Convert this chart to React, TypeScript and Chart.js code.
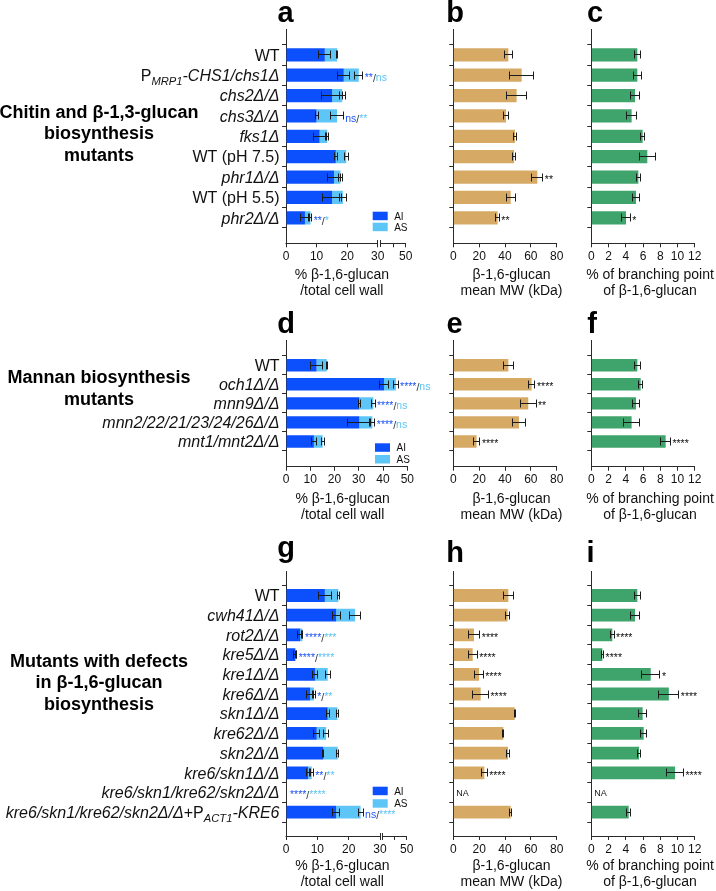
import React, { useEffect, useRef } from 'react';
import { Chart, registerables, LinearScale } from 'chart.js';

Chart.register(...registerables);

class BrokenLinearScale extends (LinearScale as any) {
  static id = 'brokenLinear';
  static defaults = (LinearScale as any).defaults;
  getPixelForValue(value: any) {
    if (value === null || value === undefined || isNaN(value)) return NaN;
    const o: any = (this as any).options;
    const self: any = this;
    const at = o.breakAt, frac = o.breakFrac, gap = o.breakGap;
    const lw = self.width * frac;
    if (value <= at) return self.left + ((value - self.min) / (at - self.min)) * lw;
    return self.left + lw + gap + ((value - at) / (self.max - at)) * (self.width - lw - gap);
  }
  getValueForPixel(pixel: number) {
    const o: any = (this as any).options;
    const self: any = this;
    const lw = self.width * o.breakFrac;
    const d = pixel - self.left;
    if (d <= lw) return self.min + (d / lw) * (o.breakAt - self.min);
    return o.breakAt + ((d - lw - o.breakGap) / (self.width - lw - o.breakGap)) * (self.max - o.breakAt);
  }
}
Chart.register(BrokenLinearScale as any);

const FONT = '"Liberation Sans", Arial, Helvetica, sans-serif';
const AXIS = '#2a2a2a';
const TXT = '#111111';
const C_AI = '#0b50fc';
const C_AS = '#5ec6f7';
const C_MW = '#d6a965';
const C_BR = '#3fa46b';

// ---------- Panel a/b/c : chitin & beta-1,3-glucan mutants ----------
const catsA = ['WT', 'P_{*MRP1*}*-CHS1/chs1Δ*', '*chs2Δ/Δ*', '*chs3Δ/Δ*', '*fks1Δ*', 'WT (pH 7.5)', '*phr1Δ/Δ*', 'WT (pH 5.5)', '*phr2Δ/Δ*'];
const aiA = [12.7, 18.9, 15.1, 10.0, 11.0, 16.3, 15.7, 15.1, 6.2];
const aiErrA = [2.0, 1.9, 3.5, 0.5, 1.9, 0.4, 2.0, 3.0, 1.3];
const asA = [4.0, 4.9, 3.3, 6.7, 2.5, 3.4, 2.1, 3.5, 1.8];
const asErrA = [0.3, 1.3, 1.0, 2.0, 0.4, 0.7, 0.7, 1.1, 0.4];
const sigAiA = ['', '**', '', 'ns', '', '', '', '', '**'];
const sigAsA = ['', 'ns', '', '**', '', '', '', '', '*'];
const mwA = [42.6, 52.9, 49.0, 40.8, 47.7, 47.0, 65.0, 44.4, 34.3];
const mwErrA = [3.2, 9.4, 8.0, 2.0, 1.0, 1.0, 4.3, 3.5, 1.3];
const mwSigA = ['', '', '', '', '', '', '**', '', '**'];
const brA = [5.34, 5.34, 5.07, 4.68, 5.96, 6.5, 5.46, 5.19, 4.03];
const brErrA = [0.35, 0.45, 0.55, 0.55, 0.25, 0.95, 0.25, 0.45, 0.5];
const brSigA = ['', '', '', '', '', '', '', '', '*'];

// ---------- Panel d/e/f : mannan mutants ----------
const catsD = ['WT', '*och1Δ/Δ*', '*mnn9Δ/Δ*', '*mnn2/22/21/23/24/26Δ/Δ*', '*mnt1/mnt2Δ/Δ*'];
const aiD = [12.6, 40.4, 30.2, 30.2, 11.5];
const aiErrD = [2.5, 1.7, 0.4, 4.8, 1.0];
const asD = [4.2, 4.9, 5.8, 5.4, 3.6];
const asErrD = [0.3, 0.9, 0.7, 1.0, 0.6];
const sigAiD = ['', '****', '****', '****', ''];
const sigAsD = ['', 'ns', 'ns', 'ns', ''];
const mwD = [42.6, 60.6, 58.0, 50.8, 18.0];
const mwErrD = [3.9, 2.6, 6.0, 4.9, 2.6];
const mwSigD = ['', '****', '**', '', '****'];
const brD = [5.34, 5.73, 5.19, 4.68, 8.63];
const brErrD = [0.35, 0.25, 0.45, 0.9, 0.55];
const brSigD = ['', '', '', '', '****'];

// ---------- Panel g/h/i : beta-1,6-glucan biosynthesis mutants ----------
const catsG = ['WT', '*cwh41Δ/Δ*', '*rot2Δ/Δ*', '*kre5Δ/Δ*', '*kre1Δ/Δ*', '*kre6Δ/Δ*', '*skn1Δ/Δ*', '*kre62Δ/Δ*', '*skn2Δ/Δ*', '*kre6/skn1Δ/Δ*', '*kre6/skn1/kre62/skn2Δ/Δ*', '*kre6/skn1/kre62/skn2Δ/Δ*+P_{*ACT1*}*-KRE6*'];
const aiG = [12.4, 16.0, 4.5, 2.9, 9.3, 7.7, 13.3, 9.8, 11.9, 7.1, null, 16.0];
const aiErrG = [2.1, 1.3, 0.8, 0.5, 0.9, 1.2, 0.5, 0.9, 0.2, 0.5, null, 1.1];
const asG = [4.3, 6.0, 0.7, 0.2, 4.0, 1.2, 3.1, 3.0, 4.6, 1.1, null, 7.8];
const asErrG = [0.3, 1.8, 0.2, 0.2, 0.8, 0.4, 0.4, 0.7, 0.4, 0.5, null, 0.8];
const sigAiG = ['', '', '****', '****', '', '*', '', '', '', '**', '****', 'ns'];
const sigAsG = ['', '', '***', '****', '', '**', '', '', '', '**', '****', '****'];
const mwG = [42.6, 42.0, 16.0, 15.0, 19.9, 21.2, 47.5, 38.7, 42.3, 24.0, null, 44.4];
const mwErrG = [3.9, 1.5, 4.5, 3.5, 3.2, 6.0, 0.3, 0.3, 1.5, 2.2, null, 0.9];
const mwSigG = ['', '', '****', '****', '****', '****', '', '', '', '****', '', ''];
const brG = [5.34, 5.07, 2.44, 1.28, 6.9, 9.0, 5.96, 6.08, 5.54, 9.72, null, 4.34];
const brErrG = [0.35, 0.5, 0.2, 0.15, 1.07, 1.16, 0.45, 0.35, 0.2, 0.97, null, 0.25];
const brSigG = ['', '', '****', '****', '*', '****', '', '', '', '****', '', ''];

// ---------- axes ----------
const pctTicks = [0, 10, 20, 30, 40, 50];
const pctBrokenLabels = ['0', '10', '20', '30', '', '50'];
const pctLabels = ['0', '10', '20', '30', '40', '50'];
const mwTicks = [0, 20, 40, 60, 80];
const mwLabels = ['0', '20', '40', '60', '80'];
const brTicks = [0, 2, 4, 6, 8, 10, 12];
const brLabels = ['0', '2', '4', '6', '8', '10', '12'];
const pctTitle = ['% β-1,6-glucan', '/total cell wall'];
const mwTitle = ['β-1,6-glucan', 'mean MW (kDa)'];
const brTitle = ['% of branching point', 'of β-1,6-glucan'];
const seriesLabels = ['AI', 'AS'];

const groupTitles = [
  ['Chitin and β-1,3-glucan', 'biosynthesis', 'mutants'],
  ['Mannan biosynthesis', 'mutants'],
  ['Mutants with defects', 'in β-1,6-glucan', 'biosynthesis'],
];
const groupBaselines = [[117.5, 139.2, 160.8], [383, 405], [666.7, 688.3, 710]];
const panelLetters = [
  { t: 'a', x: 285.5, y: 21.7 }, { t: 'b', x: 455, y: 21.7 }, { t: 'c', x: 595, y: 21.7 },
  { t: 'd', x: 286, y: 333.3 }, { t: 'e', x: 454.5, y: 333.3 }, { t: 'f', x: 592, y: 333.3 },
  { t: 'g', x: 286, y: 557 }, { t: 'h', x: 455, y: 561.7 }, { t: 'i', x: 590.5, y: 561.7 },
];

type Series = { label: string; values: (number | null)[]; errs: (number | null)[]; color: string; sigColor: string; sigs: string[] };
type Panel = {
  key: string;
  box: { left: number; top: number; width: number; height: number };
  area: { L: number; R: number; T: number; B: number };
  cats?: string[];
  rows: number;
  pad: number;
  stacked: boolean;
  series: Series[];
  xMax: number;
  xTicks: number[];
  xLabels: string[];
  broken?: { at: number; frac: number; gap: number };
  title: string[];
  titleDx: number;
  titleDy: number;
  legend?: { dx: number; dy: number; gap: number };
  na?: boolean;
};

const COL1 = { left: 0, width: 445 };
const COL2 = { left: 445, width: 135 };
const COL3 = { left: 580, width: 136 };
const ROW1 = { top: 0, height: 298, T: 29.3, B: 243.3 };
const ROW2 = { top: 300, height: 225, T: 340, B: 466.7 };
const ROW3 = { top: 530, height: 361, T: 571.7, B: 836 };

function stackedSeries(ai: any[], aiE: any[], as_: any[], asE: any[], sAi: string[], sAs: string[]): Series[] {
  return [
    { label: seriesLabels[0], values: ai, errs: aiE, color: C_AI, sigColor: '#1f55f5', sigs: sAi },
    { label: seriesLabels[1], values: as_, errs: asE, color: C_AS, sigColor: '#5cc4f5', sigs: sAs },
  ];
}
function single(v: any[], e: any[], s: string[], color: string): Series[] {
  return [{ label: '', values: v, errs: e, color, sigColor: TXT, sigs: s }];
}

const panels: Panel[] = [
  { key: 'a', box: { ...COL1, top: ROW1.top, height: ROW1.height }, area: { L: 286, R: 405.7, T: ROW1.T, B: ROW1.B }, cats: catsA, rows: catsA.length, pad: 0.17, stacked: true,
    series: stackedSeries(aiA, aiErrA, asA, asErrA, sigAiA, sigAsA), xMax: 50, xTicks: pctTicks, xLabels: pctBrokenLabels, broken: { at: 30, frac: 0.766, gap: 3 }, title: pctTitle, titleDx: -4, titleDy: 36, legend: { dx: -33, dy: -31.6, gap: 11 } },
  { key: 'b', box: { ...COL2, top: ROW1.top, height: ROW1.height }, area: { L: 453.3, R: 556.7, T: ROW1.T, B: ROW1.B }, rows: catsA.length, pad: 0.17, stacked: false,
    series: single(mwA, mwErrA, mwSigA, C_MW), xMax: 80, xTicks: mwTicks, xLabels: mwLabels, title: mwTitle, titleDx: 6.5, titleDy: 36 },
  { key: 'c', box: { ...COL3, top: ROW1.top, height: ROW1.height }, area: { L: 591.3, R: 694.7, T: ROW1.T, B: ROW1.B }, rows: catsA.length, pad: 0.17, stacked: false,
    series: single(brA, brErrA, brSigA, C_BR), xMax: 12, xTicks: brTicks, xLabels: brLabels, title: brTitle, titleDx: 7, titleDy: 36 },
  { key: 'd', box: { ...COL1, top: ROW2.top, height: ROW2.height }, area: { L: 286, R: 407.3, T: ROW2.T, B: ROW2.B }, cats: catsD, rows: catsD.length, pad: 0.16, stacked: true,
    series: stackedSeries(aiD, aiErrD, asD, asErrD, sigAiD, sigAsD), xMax: 50, xTicks: pctTicks, xLabels: pctLabels, title: pctTitle, titleDx: -4, titleDy: 36.3, legend: { dx: -32.3, dy: -23.4, gap: 11.7 } },
  { key: 'e', box: { ...COL2, top: ROW2.top, height: ROW2.height }, area: { L: 453.3, R: 556.7, T: ROW2.T, B: ROW2.B }, rows: catsD.length, pad: 0.16, stacked: false,
    series: single(mwD, mwErrD, mwSigD, C_MW), xMax: 80, xTicks: mwTicks, xLabels: mwLabels, title: mwTitle, titleDx: 6.5, titleDy: 36.3 },
  { key: 'f', box: { ...COL3, top: ROW2.top, height: ROW2.height }, area: { L: 591.3, R: 694.7, T: ROW2.T, B: ROW2.B }, rows: catsD.length, pad: 0.16, stacked: false,
    series: single(brD, brErrD, brSigD, C_BR), xMax: 12, xTicks: brTicks, xLabels: brLabels, title: brTitle, titleDx: 7, titleDy: 36.3 },
  { key: 'g', box: { ...COL1, top: ROW3.top, height: ROW3.height }, area: { L: 286, R: 406.7, T: ROW3.T, B: ROW3.B }, cats: catsG, rows: catsG.length, pad: 0.15, stacked: true,
    series: stackedSeries(aiG, aiErrG, asG, asErrG, sigAiG, sigAsG), xMax: 50, xTicks: pctTicks, xLabels: pctBrokenLabels, broken: { at: 30, frac: 0.779, gap: 2.5 }, title: pctTitle, titleDx: -4, titleDy: 34, legend: { dx: -34, dy: -49.3, gap: 12.5 } },
  { key: 'h', box: { ...COL2, top: ROW3.top, height: ROW3.height }, area: { L: 453.3, R: 556.7, T: ROW3.T, B: ROW3.B }, rows: catsG.length, pad: 0.15, stacked: false,
    series: single(mwG, mwErrG, mwSigG, C_MW), xMax: 80, xTicks: mwTicks, xLabels: mwLabels, title: mwTitle, titleDx: 6.5, titleDy: 34, na: true },
  { key: 'i', box: { ...COL3, top: ROW3.top, height: ROW3.height }, area: { L: 591.3, R: 694.7, T: ROW3.T, B: ROW3.B }, rows: catsG.length, pad: 0.15, stacked: false,
    series: single(brG, brErrG, brSigG, C_BR), xMax: 12, xTicks: brTicks, xLabels: brLabels, title: brTitle, titleDx: 7, titleDy: 34, na: true },
];

function parseRich(s: string) {
  const segs: { t: string; it: boolean; sub: boolean }[] = [];
  let it = false, sub = false, buf = '';
  const push = () => { if (buf) { segs.push({ t: buf, it, sub }); buf = ''; } };
  for (let i = 0; i < s.length; i++) {
    const c = s[i];
    if (c === '*') { push(); it = !it; }
    else if (c === '_' && s[i + 1] === '{') { push(); sub = true; i++; }
    else if (c === '}' && sub) { push(); sub = false; }
    else buf += c;
  }
  push();
  return segs;
}

function drawRich(ctx: CanvasRenderingContext2D, s: string, xr: number, yb: number, size: number) {
  const segs = parseRich(s);
  const fontOf = (g: any) => `${g.it ? 'italic ' : ''}${g.sub ? size * 0.7 : size}px ${FONT}`;
  let w = 0;
  for (const g of segs) { ctx.font = fontOf(g); w += ctx.measureText(g.t).width; }
  let x = xr - w;
  ctx.textAlign = 'left';
  ctx.textBaseline = 'alphabetic';
  ctx.fillStyle = TXT;
  for (const g of segs) {
    ctx.font = fontOf(g);
    ctx.fillText(g.t, x, yb + (g.sub ? 3.6 : 0));
    x += ctx.measureText(g.t).width;
  }
}

const al = (v: number) => Math.round(v - 0.5) + 0.5;

function drawErr(ctx: CanvasRenderingContext2D, x1: number, x2: number, y: number) {
  const a = al(x1), b = al(x2), yy = al(y);
  ctx.beginPath();
  ctx.moveTo(a, yy); ctx.lineTo(b, yy);
  ctx.moveTo(a, yy - 4); ctx.lineTo(a, yy + 4);
  ctx.moveTo(b, yy - 4); ctx.lineTo(b, yy + 4);
  ctx.stroke();
}

function makePlugin(p: Panel) {
  return {
    id: 'annot_' + p.key,
    afterDraw(chart: any) {
      const ctx: CanvasRenderingContext2D = chart.ctx;
      const xs = chart.scales.x, ys = chart.scales.y;
      const ca = chart.chartArea;
      ctx.save();
      ctx.strokeStyle = AXIS;
      ctx.lineWidth = 1;
      if (p.broken) {
        const y0 = al(ca.bottom);
        const xb1 = al(xs.getPixelForValue(p.broken.at));
        const xb2 = al(xs.getPixelForValue(p.broken.at) + p.broken.gap);
        ctx.beginPath();
        ctx.moveTo(ca.left - 0.5, y0); ctx.lineTo(xb1, y0);
        ctx.moveTo(xb2, y0); ctx.lineTo(ca.right, y0);
        ctx.moveTo(xb1, y0 - 3.5); ctx.lineTo(xb1, y0 + 3.5);
        ctx.moveTo(xb2, y0 - 3.5); ctx.lineTo(xb2, y0 + 3.5);
        ctx.stroke();
      }
      // axis title (two lines), drawn without width compression
      ctx.fillStyle = TXT;
      ctx.font = `14px ${FONT}`;
      ctx.textAlign = 'center';
      ctx.textBaseline = 'alphabetic';
      const cx = (ca.left + ca.right) / 2 + p.titleDx;
      p.title.forEach((ln, j) => ctx.fillText(ln, cx, ca.bottom + p.titleDy + j * 16));

      if (p.cats) {
        p.cats.forEach((c, i) => {
          const y = ys.getPixelForValue(i);
          drawRich(ctx, c, ca.left - 6.5, y + 5.8, 16);
        });
      }
      ctx.strokeStyle = '#1c1c1c';
      for (let i = 0; i < p.rows; i++) {
        const y = ys.getPixelForValue(i);
        let cum = 0;
        let maxEnd: number | null = null;
        let allNull = true;
        p.series.forEach((s) => {
          const v = s.values[i];
          if (v == null) return;
          allNull = false;
          cum = p.stacked ? cum + v : v;
          const e = s.errs[i] ?? 0;
          const x1 = xs.getPixelForValue(cum - e);
          const x2 = xs.getPixelForValue(cum + e);
          drawErr(ctx, x1, x2, y);
          maxEnd = Math.max(maxEnd ?? -Infinity, x2);
        });
        const x0 = maxEnd != null ? (maxEnd as number) + 2 : xs.getPixelForValue(0) + 4;
        ctx.textBaseline = 'alphabetic';
        ctx.textAlign = 'left';
        if (p.stacked) {
          const a = p.series[0].sigs[i], b = p.series[1].sigs[i];
          if (a || b) {
            let x = x0;
            ctx.font = `10.5px ${FONT}`;
            ctx.fillStyle = p.series[0].sigColor;
            ctx.fillText(a, x, y + 6); x += ctx.measureText(a).width;
            ctx.fillStyle = '#333';
            ctx.fillText('/', x, y + 7); x += ctx.measureText('/').width;
            ctx.fillStyle = p.series[1].sigColor;
            ctx.fillText(b, x, y + 6);
          }
        } else {
          const a = p.series[0].sigs[i];
          if (a) {
            ctx.font = `10.5px ${FONT}`;
            ctx.fillStyle = TXT;
            ctx.fillText(a, x0, y + 6);
          }
        }
        if (allNull && p.na) {
          ctx.font = `9px ${FONT}`;
          ctx.fillStyle = TXT;
          ctx.fillText('NA', xs.getPixelForValue(0) + 3, y + 3.3);
        }
      }
      if (p.legend) {
        const lg = p.legend;
        p.series.forEach((s, k) => {
          const bx = ca.right + lg.dx, by = ca.bottom + lg.dy + k * lg.gap;
          ctx.fillStyle = s.color;
          ctx.fillRect(bx, by, 15, 8.5);
          ctx.fillStyle = TXT;
          ctx.font = `10px ${FONT}`;
          ctx.textAlign = 'left';
          ctx.textBaseline = 'alphabetic';
          ctx.fillText(s.label, bx + 21.5, by + 8);
        });
      }
      ctx.restore();
    },
  };
}

function PanelChart({ p }: { p: Panel }) {
  const ref = useRef<HTMLCanvasElement | null>(null);
  useEffect(() => {
    if (!ref.current) return;
    const { box, area } = p;
    const rowsIdx = Array.from({ length: p.rows }, (_, i) => i);
    const datasets = p.series.map((s) => ({
      label: s.label,
      data: s.values.map((v, i) => ({ x: v, y: i })).filter((d) => d.x != null),
      backgroundColor: s.color,
      borderWidth: 0,
      barPercentage: 0.65,
      categoryPercentage: 1,
      stack: 's',
    }));
    const xScale: any = {
      type: p.broken ? 'brokenLinear' : 'linear',
      min: 0,
      max: p.xMax,
      stacked: p.stacked,
      z: 1,
      afterBuildTicks: (s: any) => { s.ticks = p.xTicks.map((v) => ({ value: v })); },
      afterFit: (s: any) => { s.height = box.top + box.height - area.B; },
      grid: { display: true, drawOnChartArea: false, drawTicks: true, tickLength: 4, color: AXIS, lineWidth: 1 },
      border: { display: !p.broken, color: AXIS, width: 1 },
      ticks: {
        autoSkip: false, maxRotation: 0, minRotation: 0, padding: 2, color: TXT,
        font: { family: FONT, size: 12 },
        callback: (v: any) => { const k = p.xTicks.indexOf(Number(v)); return k >= 0 ? p.xLabels[k] : ''; },
      },
      title: { display: false },
    };
    if (p.broken) {
      xScale.breakAt = p.broken.at;
      xScale.breakFrac = p.broken.frac;
      xScale.breakGap = p.broken.gap;
    }
    const chart = new Chart(ref.current, {
      type: 'bar',
      data: { datasets: datasets as any },
      options: {
        indexAxis: 'y',
        responsive: false,
        animation: false,
        devicePixelRatio: 1,
        layout: { padding: { top: area.T - box.top, right: box.left + box.width - area.R, left: 0, bottom: 0 } },
        plugins: { legend: { display: false }, tooltip: { enabled: false } },
        scales: {
          x: xScale,
          y: {
            type: 'linear',
            reverse: true,
            min: -0.5 - p.pad,
            max: p.rows - 0.5 + p.pad,
            stacked: p.stacked,
            z: 1,
            afterBuildTicks: (s: any) => { s.ticks = rowsIdx.map((v) => ({ value: v })); },
            afterFit: (s: any) => { s.width = area.L - box.left; },
            grid: { display: true, drawOnChartArea: false, drawTicks: true, tickLength: 4, color: AXIS, lineWidth: 1 },
            border: { display: true, color: AXIS, width: 1 },
            ticks: { display: false },
          },
        },
      } as any,
      plugins: [makePlugin(p) as any],
    });
    return () => chart.destroy();
  }, [p]);
  return (
    <canvas
      ref={ref}
      width={p.box.width}
      height={p.box.height}
      style={{ position: 'absolute', left: p.box.left, top: p.box.top, width: p.box.width, height: p.box.height }}
    />
  );
}

export default function App() {
  return (
    <div style={{ position: 'fixed', left: 0, top: 0, width: 716, height: 891, background: '#ffffff', overflow: 'hidden' }}>
      {panels.map((p) => <PanelChart key={p.key} p={p} />)}
      <svg width={716} height={891} style={{ position: 'absolute', left: 0, top: 0, pointerEvents: 'none' }}>
        {panelLetters.map((l) => (
          <text key={l.t} x={l.x} y={l.y} fontFamily={FONT} fontWeight={700} fontSize={29} textAnchor="middle" fill="#000">{l.t}</text>
        ))}
        {groupTitles.map((lines, gi) => lines.map((ln, j) => (
          <text key={gi + '-' + j} x={99} y={groupBaselines[gi][j]} fontFamily={FONT} fontWeight={700} fontSize={18} textAnchor="middle" fill="#000">{ln}</text>
        )))}
      </svg>
    </div>
  );
}
